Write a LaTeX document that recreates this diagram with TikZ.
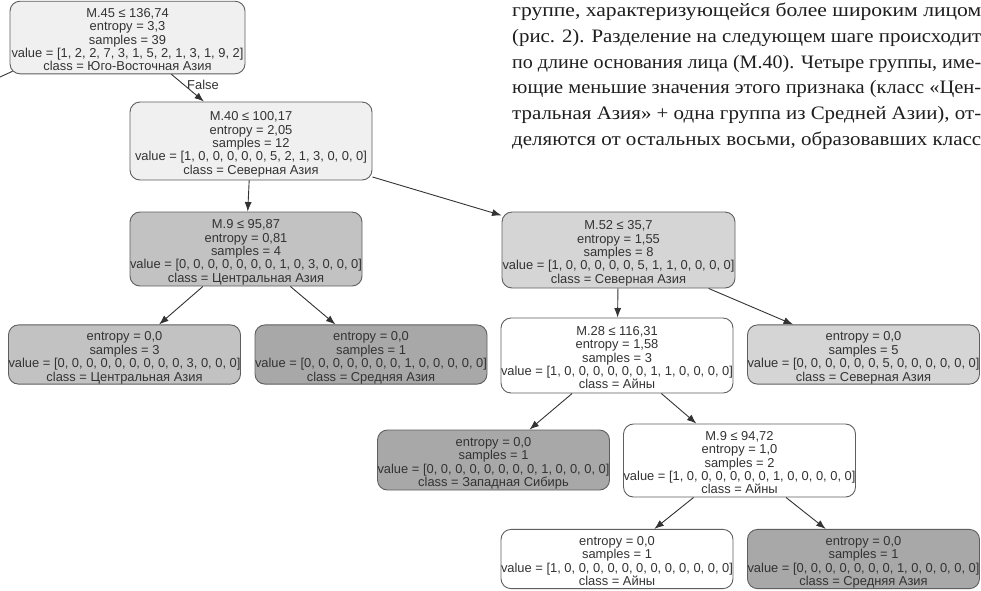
\documentclass[tikz,border=0pt]{standalone}
\usepackage{fontspec}
\setmainfont{Liberation Sans}
\newfontfamily\parafont{Liberation Serif}
\usepackage{graphicx}
\usetikzlibrary{arrows.meta}
\definecolor{txt}{HTML}{333333}
\definecolor{bord}{HTML}{5E5E5E}
\definecolor{cA}{HTML}{F0F0F0}
\definecolor{cB}{HTML}{C2C2C2}
\definecolor{cC}{HTML}{D5D5D5}
\definecolor{cD}{HTML}{A8A8A8}
\definecolor{ink}{HTML}{1E1E1E}
\newcommand{\tp}{\rule{0pt}{16pt}}
\newcommand{\bt}{\rule[-3pt]{0pt}{3pt}}
\tikzset{
  tn/.style={draw=bord, line width=0.9pt, rounded corners=10pt, align=center,
    text=txt, font=\fontsize{12.9}{13.4}\selectfont, inner sep=0pt},
  edge/.style={draw=txt, line width=0.9pt, -{Latex[length=9.5pt,width=7pt]}},
  plain/.style={draw=txt, line width=0.9pt},
  paraline/.style={anchor=base west, inner sep=0pt, text=ink, font=\parafont\fontsize{19}{22}\selectfont},
}
\newcommand{\fitl}[1]{\resizebox{469pt}{\height}{#1}}
\begin{document}
\begin{tikzpicture}[x=1pt,y=-1pt]
\fill[white] (0,0) rectangle (981,590);
\useasboundingbox (0,0) rectangle (981,590);

% nodes
\node[tn, fill=cA, minimum width=235pt, minimum height=71pt] (root) at (127.5,37.5)
  {\tp M.45 ≤ 136,74\\entropy = 3,3\\samples = 39\\value = [1, 2, 2, 7, 3, 1, 5, 2, 1, 3, 1, 9, 2]\\class = Юго-Восточная Азия\bt};
\node[tn, fill=cA, minimum width=242pt, minimum height=78pt] (m40) at (251,141)
  {\tp M.40 ≤ 100,17\\entropy = 2,05\\samples = 12\\value = [1, 0, 0, 0, 0, 0, 5, 2, 1, 3, 0, 0, 0]\\class = Северная Азия\bt};
\node[tn, fill=cB, minimum width=232pt, minimum height=74pt] (m9) at (246,249)
  {\tp M.9 ≤ 95,87\\entropy = 0,81\\samples = 4\\value = [0, 0, 0, 0, 0, 0, 0, 1, 0, 3, 0, 0, 0]\\class = Центральная Азия\bt};
\node[tn, fill=cC, minimum width=233pt, minimum height=76pt] (m52) at (618.5,250)
  {\tp M.52 ≤ 35,7\\entropy = 1,55\\samples = 8\\value = [1, 0, 0, 0, 0, 0, 5, 1, 1, 0, 0, 0, 0]\\class = Северная Азия\bt};
\node[tn, fill=cB, minimum width=229pt, minimum height=59pt] (l1) at (124.5,354.5)
  {\tp entropy = 0,0\\samples = 3\\value = [0, 0, 0, 0, 0, 0, 0, 0, 0, 3, 0, 0, 0]\\class = Центральная Азия\bt};
\node[tn, fill=cD, minimum width=232pt, minimum height=59pt] (l2) at (371,354.5)
  {\tp entropy = 0,0\\samples = 1\\value = [0, 0, 0, 0, 0, 0, 0, 1, 0, 0, 0, 0, 0]\\class = Средняя Азия\bt};
\node[tn, fill=white, minimum width=230pt, minimum height=75pt] (m28) at (617,355.5)
  {\tp M.28 ≤ 116,31\\entropy = 1,58\\samples = 3\\value = [1, 0, 0, 0, 0, 0, 0, 1, 1, 0, 0, 0, 0]\\class = Айны\bt};
\node[tn, fill=cC, minimum width=231pt, minimum height=59pt] (l3) at (863.5,354.5)
  {\tp entropy = 0,0\\samples = 5\\value = [0, 0, 0, 0, 0, 0, 5, 0, 0, 0, 0, 0, 0]\\class = Северная Азия\bt};
\node[tn, fill=cD, minimum width=231pt, minimum height=60pt] (l4) at (493.5,460)
  {\tp entropy = 0,0\\samples = 1\\value = [0, 0, 0, 0, 0, 0, 0, 0, 1, 0, 0, 0, 0]\\class = Западная Сибирь\bt};
\node[tn, fill=white, minimum width=231pt, minimum height=73pt] (m9b) at (739.5,460.5)
  {\tp M.9 ≤ 94,72\\entropy = 1,0\\samples = 2\\value = [1, 0, 0, 0, 0, 0, 0, 1, 0, 0, 0, 0, 0]\\class = Айны\bt};
\node[tn, fill=white, minimum width=230pt, minimum height=58pt] (l5) at (617,559)
  {\tp entropy = 0,0\\samples = 1\\value = [1, 0, 0, 0, 0, 0, 0, 0, 0, 0, 0, 0, 0]\\class = Айны\bt};
\node[tn, fill=cD, minimum width=231pt, minimum height=58pt] (l6) at (863.5,559)
  {\tp entropy = 0,0\\samples = 1\\value = [0, 0, 0, 0, 0, 0, 0, 1, 0, 0, 0, 0, 0]\\class = Средняя Азия\bt};

% edges
\coordinate (offl) at (0,77);
\draw[plain] ([shift={(3,-3)}]root.south west) -- (offl);
\draw[edge] (root) -- (m40);
\node[text=txt, font=\fontsize{12.9}{13.4}\selectfont, inner sep=0pt] (flab) at (203,85) {False};
\draw[edge] (m40) -- (m9);
\draw[edge] (m40) -- (m52);
\draw[edge] (m9) -- (l1);
\draw[edge] (m9) -- (l2);
\draw[edge] (m52) -- (m28);
\draw[edge] (m52) -- (l3);
\draw[edge] (m28) -- (l4);
\draw[edge] (m28) -- (m9b);
\draw[edge] (m9b) -- (l5);
\draw[edge] (m9b) -- (l6);

% paragraph
\node[paraline] (p1) at (512,16.5) {\fitl{группе, характеризующейся более широким лицом}};
\node[paraline] (p2) at (512,42.3) {\fitl{(рис. 2). Разделение на следующем шаге происходит}};
\node[paraline] (p3) at (512,68.1) {\fitl{по длине основания лица (М.40). Четыре группы, име-}};
\node[paraline] (p4) at (512,93.9) {\fitl{ющие меньшие значения этого признака (класс «Цен-}};
\node[paraline] (p5) at (512,119.7) {\fitl{тральная Азия» + одна группа из Средней Азии), от-}};
\node[paraline] (p6) at (512,145.5) {\fitl{деляются от остальных восьми, образовавших класс}};
\end{tikzpicture}
\end{document}
